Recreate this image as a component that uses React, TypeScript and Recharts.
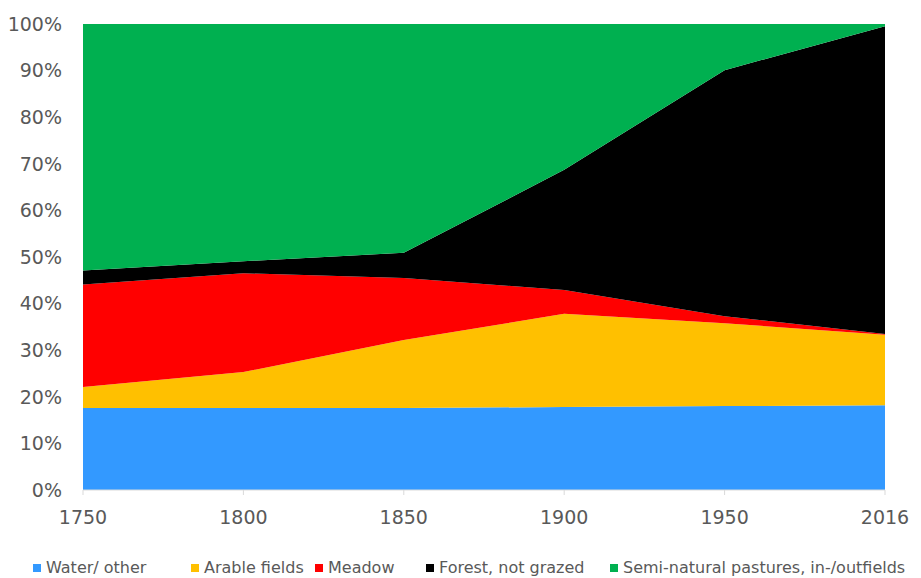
import React from "react";
import { AreaChart, Area, XAxis, YAxis } from "recharts";

// Years on the x axis (evenly spaced categories)
const years = ["1750", "1800", "1850", "1900", "1950", "2016"];

// Share of land use, percent
const water = [17.6, 17.6, 17.6, 17.8, 18.0, 18.2];
const arable = [4.5, 7.7, 14.6, 20.0, 17.8, 15.1];
const meadow = [22.0, 21.2, 13.3, 5.1, 1.5, 0.2];
const forest = [3.0, 2.6, 5.4, 25.8, 52.8, 66.0];
const pastures = [52.9, 50.9, 49.1, 31.3, 9.9, 0.5];

const yTicks = [0, 10, 20, 30, 40, 50, 60, 70, 80, 90, 100];

const SERIES = [
  { key: "water", name: "Water/ other", color: "#3399FF", left: 33 },
  { key: "arable", name: "Arable fields", color: "#FFC000", left: 191 },
  { key: "meadow", name: "Meadow", color: "#FF0000", left: 315 },
  { key: "forest", name: "Forest, not grazed", color: "#000000", left: 426 },
  {
    key: "pastures",
    name: "Semi-natural pastures, in-/outfields",
    color: "#00B050",
    left: 610,
  },
];

const data = years.map((year, i) => ({
  year,
  water: water[i],
  arable: arable[i],
  meadow: meadow[i],
  forest: forest[i],
  pastures: pastures[i],
}));

const FONT = "'DejaVu Sans', sans-serif";
const TEXT = "#595959";

export default function App() {
  return (
    <div
      style={{
        position: "absolute",
        left: 0,
        top: 0,
        width: 921,
        height: 578,
        overflow: "hidden",
        background: "#fff",
        fontFamily: FONT,
      }}
    >
      <AreaChart
        width={921}
        height={578}
        data={data}
        margin={{ top: 24, right: 36, left: 0, bottom: 48 }}
      >
        <XAxis
          dataKey="year"
          axisLine={{ stroke: "#d9d9d9" }}
          tickLine={{ stroke: "#d9d9d9" }}
          tickSize={5}
          tickMargin={16}
          height={40}
          tick={{ fill: TEXT, fontSize: 19, fontFamily: FONT }}
          interval={0}
        />
        <YAxis
          type="number"
          domain={[0, 100]}
          ticks={yTicks}
          allowDataOverflow
          width={83}
          axisLine={false}
          tickLine={false}
          tickSize={0}
          tickMargin={21}
          tickFormatter={(v) => `${v}%`}
          tick={{ fill: TEXT, fontSize: 19, fontFamily: FONT }}
        />
        {SERIES.map((s) => (
          <Area
            key={s.key}
            dataKey={s.key}
            name={s.name}
            stackId="1"
            type="linear"
            stroke="none"
            fill={s.color}
            fillOpacity={1}
            isAnimationActive={false}
          />
        ))}
      </AreaChart>

      {/* legend */}
      {SERIES.map((s) => (
        <div
          key={s.key}
          style={{
            position: "absolute",
            left: s.left,
            top: 558,
            display: "flex",
            alignItems: "center",
            whiteSpace: "nowrap",
            fontSize: 16,
            color: TEXT,
            lineHeight: "20px",
          }}
        >
          <span
            style={{
              display: "inline-block",
              width: 8,
              height: 8,
              background: s.color,
              marginRight: 5,
            }}
          />
          {s.name}
        </div>
      ))}
    </div>
  );
}
